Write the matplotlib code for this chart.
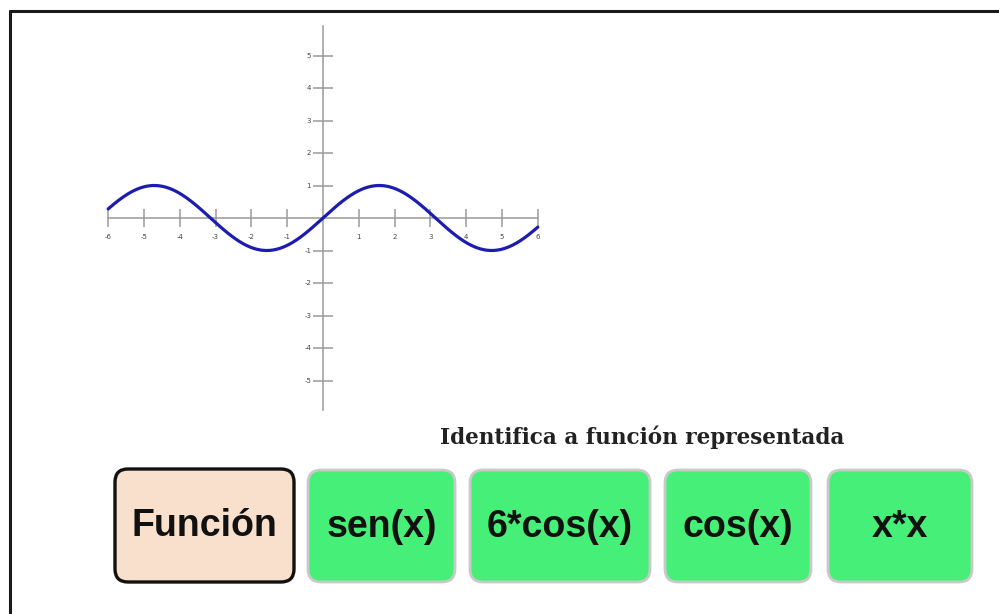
import numpy as np
import matplotlib
matplotlib.use("Agg")
import matplotlib.pyplot as plt
from matplotlib.patches import FancyBboxPatch

# graph data
x_min, x_max = -6, 6
y_axis_min, y_axis_max = -5.9, 5.9
x_ticks = [-6, -5, -4, -3, -2, -1, 1, 2, 3, 4, 5, 6]
y_ticks = [-5, -4, -3, -2, -1, 1, 2, 3, 4, 5]
curve_x = np.linspace(x_min, x_max, 400)
curve_y = np.sin(curve_x)  # the plotted function: sen(x)

# quiz texts
question = "Identifica a función representada"
button_labels = ["Función", "sen(x)", "6*cos(x)", "cos(x)", "x*x"]

W, H = 999, 614
fig = plt.figure(figsize=(W / 100, H / 100), dpi=100)
fig.patch.set_facecolor("white")

# page layer in pixel coordinates
ui = fig.add_axes([0, 0, 1, 1])
ui.set_xlim(0, W)
ui.set_ylim(H, 0)
ui.axis("off")
ui.plot([10, 10], [10, H + 5], color="#1a1a1a", lw=2.2, solid_capstyle="butt")
ui.plot([9, W + 5], [10.5, 10.5], color="#1a1a1a", lw=2.2, solid_capstyle="butt")

# graph axes
g = fig.add_axes([101 / W, (H - 419.5) / H, 444 / W, 403 / H])
g.set_xlim(-6.2, 6.2)
g.set_ylim(-6.2, 6.2)
g.axis("off")
g.patch.set_alpha(0)

axis_col = "#9a9a9a"
g.plot([x_min, x_max], [0, 0], color=axis_col, lw=1.1)
g.plot([0, 0], [y_axis_min, y_axis_max], color=axis_col, lw=1.1)
g.vlines(x_ticks, -0.28, 0.28, color=axis_col, lw=1.1)
g.hlines(y_ticks, -0.28, 0.28, color=axis_col, lw=1.1)
for t in x_ticks:
    g.text(t, -0.58, str(t), ha="center", va="center", fontsize=5, color="#444444")
for t in y_ticks:
    g.text(-0.33, t, str(t), ha="right", va="center", fontsize=5, color="#444444")

g.plot(curve_x, curve_y, color="#1c1cb0", lw=2.3, solid_capstyle="round")

# question
ui.text(642, 437, question, ha="center", va="center", fontsize=15.5,
        fontweight="bold", family="DejaVu Serif", color="#222222")

# buttons
bx = [(115, 294), (308, 455), (470, 650), (665, 811), (828, 972)]
for i, (lab, (x0, x1)) in enumerate(zip(button_labels, bx)):
    if i == 0:
        fc, ec, lw, y0, y1 = "#f9e0cc", "#111111", 2.4, 469, 582
    else:
        fc, ec, lw, y0, y1 = "#46f078", "#c9c9c9", 2.0, 470, 582
    box = FancyBboxPatch((x0, y0), x1 - x0, y1 - y0,
                         boxstyle="round,pad=0,rounding_size=13",
                         fc=fc, ec=ec, lw=lw)
    ui.add_patch(box)
    ui.text((x0 + x1) / 2, (y0 + y1) / 2 + 1, lab, ha="center", va="center",
            fontsize=27, fontweight="bold", family="Liberation Sans",
            color="#111111")

fig.savefig("out.png", dpi=100, facecolor="white")
